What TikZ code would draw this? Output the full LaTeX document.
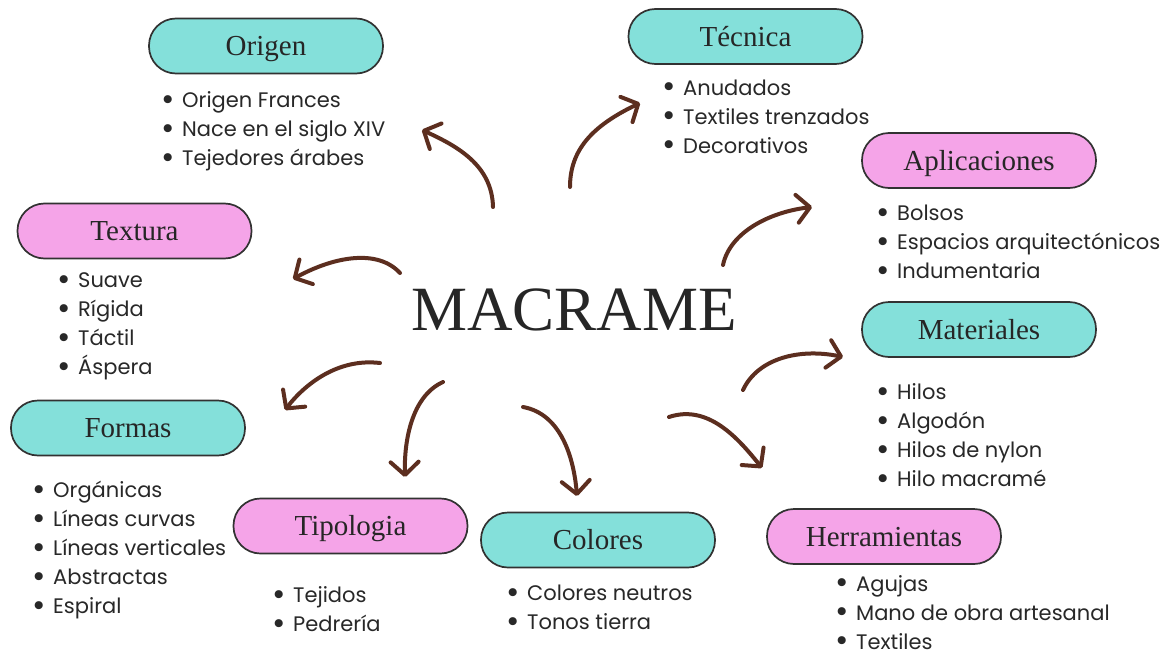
\documentclass[tikz,border=0pt]{standalone}
\usepackage{fontspec}
\usepackage{graphicx}
\setmainfont{Liberation Serif}
\newfontfamily\popfont{Poppins}
\usetikzlibrary{arrows.meta}
\definecolor{tealbox}{RGB}{132,224,218}
\definecolor{pinkbox}{RGB}{245,164,232}
\definecolor{arrowbrown}{RGB}{92,46,31}
\definecolor{txtc}{RGB}{38,38,38}
\definecolor{itemc}{RGB}{40,40,40}
\definecolor{borderc}{RGB}{50,50,50}
\newcommand\mybullet{\makebox[20pt][l]{\hspace{-1pt}\smash{\raisebox{-2.6pt}{\scalebox{1.55}{•}}}}}
\newcommand\mylist[4]{%
  \foreach \t [count=\i] in {#4} {
    \node[itemnode, name=#1\i] at (#2-20, #3+29*\i-29) {\mybullet\t};
  }}
\begin{document}
\begin{tikzpicture}[x=1pt,y=-1pt,
  headbox/.style={draw=borderc, line width=1.7pt, rounded corners=27pt,
    minimum width=234pt, minimum height=55pt, inner sep=0pt,
    font=\fontsize{29}{29}\selectfont, text=txtc, text height=19.5pt, text depth=0pt},
  tealhead/.style={headbox, fill=tealbox},
  pinkhead/.style={headbox, fill=pinkbox},
  itemnode/.style={anchor=base west, inner sep=0pt, text=itemc,
    font=\popfont\fontsize{21}{29}\selectfont},
  curvearrow/.style={draw=arrowbrown, line width=4pt, line cap=round,
    -{Straight Barb[length=13pt,width=28pt,round]}}
  ]
\useasboundingbox[fill=white] (0,0) rectangle (1173,653);

% central title
\node[anchor=base, inner sep=0pt, text=txtc, font=\fontsize{63}{63}\selectfont] (title) at (574,330) {MACRAME};

% heading boxes
\node[tealhead] (origen) at (266,46) {Origen};
\node[tealhead] (tecnica) at (745.5,36.5) {Técnica};
\node[pinkhead] (aplic) at (979,160.5) {Aplicaciones};
\node[pinkhead] (textura) at (134.5,231) {Textura};
\node[tealhead] (materiales) at (979,329.5) {Materiales};
\node[tealhead] (formas) at (128,428) {Formas};
\node[pinkhead] (tipologia) at (350.5,526) {Tipologia};
\node[tealhead] (colores) at (598,540) {Colores};
\node[pinkhead] (herram) at (884,536.5) {Herramientas};

% bullet lists
\mylist{orI}{182}{107.5}{Origen Frances,Nace en el siglo XIV,Tejedores árabes}
\mylist{teI}{683}{95}{Anudados,Textiles trenzados,Decorativos}
\mylist{apI}{897}{220.5}{Bolsos,Espacios arquitectónicos,Indumentaria}
\mylist{txI}{78}{287.5}{Suave,Rígida,Táctil,Áspera}
\mylist{maI}{897}{399.5}{Hilos,Algodón,Hilos de nylon,Hilo macramé}
\mylist{foI}{53}{497.5}{Orgánicas,Líneas curvas,Líneas verticales,Abstractas,Espiral}
\mylist{tiI}{293}{602.5}{Tejidos,Pedrería}
\mylist{coI}{527}{600.5}{Colores neutros,Tonos tierra}
\mylist{heI}{856}{591}{Agujas,Mano de obra artesanal,Textiles}

% arrow end points
\coordinate (oS) at (493,207);  \coordinate (oE) at (422,130);
\coordinate (tS) at (570,187);  \coordinate (tE) at (640,103);
\coordinate (aS) at (723,265);  \coordinate (aE) at (812,207);
\coordinate (xS) at (400,273);  \coordinate (xE) at (293,279);
\coordinate (fS) at (380,363);  \coordinate (fE) at (285,410);
\coordinate (pS) at (443,382);  \coordinate (pE) at (405,477);
\coordinate (cS) at (523,407);  \coordinate (cE) at (577,496);
\coordinate (hS) at (669,417);  \coordinate (hE) at (762,468);
\coordinate (mS) at (743,390);  \coordinate (mE) at (843,357);

% arrows
\draw[curvearrow] (oS) .. controls (492,165) and (457,146) .. (oE);
\draw[curvearrow] (tS) .. controls (570,150) and (592,126) .. (tE);
\draw[curvearrow] (aS) .. controls (730,232) and (770,212) .. (aE);
\draw[curvearrow] (xS) .. controls (378,249) and (335,256) .. (xE);
\draw[curvearrow] (fS) .. controls (338,358) and (305,384) .. (fE);
\draw[curvearrow] (pS) .. controls (412,396) and (404,440) .. (pE);
\draw[curvearrow] (cS) .. controls (562,414) and (574,460) .. (cE);
\draw[curvearrow] (hS) .. controls (708,404) and (738,438) .. (hE);
\draw[curvearrow] (mS) .. controls (758,358) and (800,348) .. (mE);
\end{tikzpicture}
\end{document}
